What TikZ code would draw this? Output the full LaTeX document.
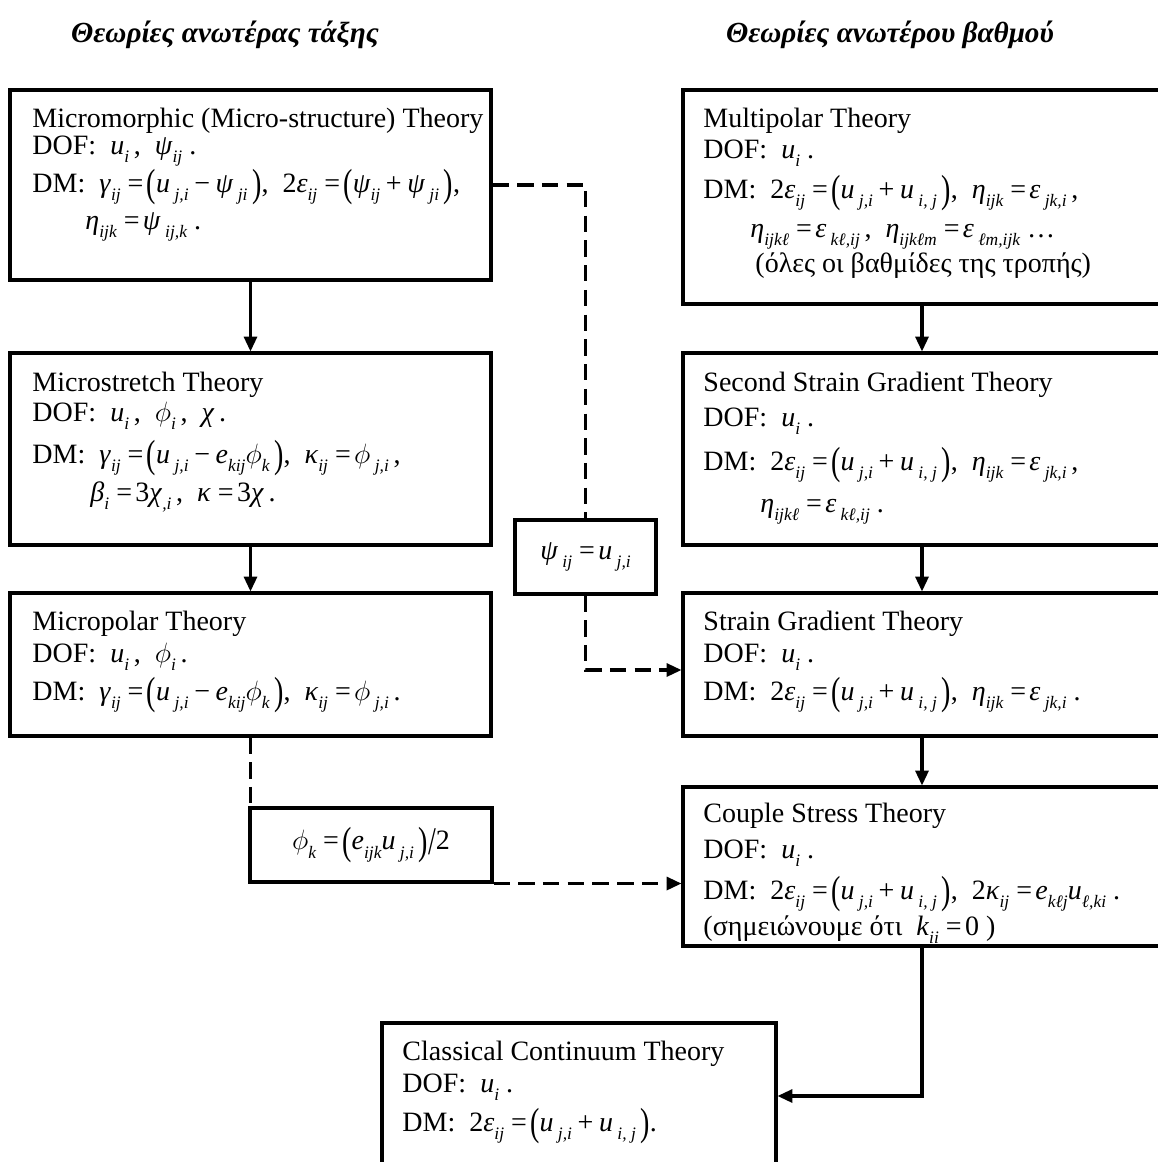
\documentclass[tikz,border=0pt]{standalone}
\usepackage{fontspec}
\usepackage{graphicx}
\setmainfont{Liberation Serif}
\usetikzlibrary{arrows.meta,fit,calc}
\newcommand\Sub[1]{\raisebox{-0.3em}{\fontsize{7.5}{7.5}\selectfont\itshape #1}}
\newcommand\Vv[2]{\textit{#1}\Sub{#2}}
\newcommand\Phv{\ensuremath{\phi}}
\newcommand\Eqs{\hspace{0.25em}=\hspace{0.12em}}
\newcommand\Pls{\hspace{0.2em}+\hspace{0.2em}}
\newcommand\Mns{\hspace{0.2em}−\hspace{0.2em}}
\newcommand\Lpar{\raisebox{-0.17em}{\scalebox{1}[1.4]{(}}}
\newcommand\Rpar{\raisebox{-0.17em}{\scalebox{1}[1.4]{)}}}
\newcommand\Slsh{\raisebox{-0.17em}{\scalebox{1}[1.4]{/}}}
\begin{document}
\begin{tikzpicture}[x=0.4286pt,y=-0.4286pt,
 box/.style={draw,line width=1.3pt,inner sep=0pt,rectangle},
 txt/.style={anchor=base west,inner sep=0pt,font=\fontsize{12}{14}\selectfont},
 ctxt/.style={anchor=center,inner sep=0pt,font=\fontsize{12}{14}\selectfont},
 conn/.style={line width=1.3pt},
 arr/.style={-{Triangle[length=6.4pt,width=5.6pt]}},
 dsh/.style={dash pattern=on 7pt off 3.6pt},
 head/.style={anchor=base,inner sep=0pt,font=\fontsize{12.5}{15}\selectfont\bfseries\itshape}]
\clip (0,0) rectangle (1158,1162);
% headers
\node[head] (h1) at (225,42) {Θεωρίες ανωτέρας τάξης};
\node[head] (h2) at (890,42) {Θεωρίες ανωτέρου βαθμού};
% boxes
\node[box,fit={(10,90)(491,280)}] (mm) {};
\node[box,fit={(10,353)(491,545)}] (ms) {};
\node[box,fit={(10,593)(491,736)}] (mp) {};
\node[box,fit={(683,90)(1180,304)}] (mu) {};
\node[box,fit={(683,353)(1180,545)}] (ss) {};
\node[box,fit={(683,593)(1180,736)}] (sg) {};
\node[box,fit={(683,787)(1180,946)}] (cs) {};
\node[box,fit={(382,1023)(776,1180)}] (cl) {};
\node[box,fit={(515,520)(656,594)}] (psi) {};
\node[box,fit={(250,808)(492,882)}] (phi) {};
% box texts
\node[txt] (mm1) at (32,127) {Micromorphic (Micro-structure) Theory};
\node[txt] (mm2) at (32,154) {DOF:~ \Vv{u}{i}\,,~ \Vv{ψ}{ij}~.};
\node[txt] (mm3) at (32,192) {DM:~ \Vv{γ}{ij}\Eqs\Lpar\Vv{u}{~j,i}\Mns\Vv{ψ}{~ji}\,\Rpar,~ 2\Vv{ε}{ij}\Eqs\Lpar\Vv{ψ}{ij}\Pls\Vv{ψ}{~ji}\,\Rpar,};
\node[txt] (mm4) at (85,229) {\Vv{η}{ijk}\Eqs\Vv{ψ}{~ij,k}~.};
\node[txt] (ms1) at (32,391) {Microstretch Theory};
\node[txt] (ms2) at (32,421) {DOF:~ \Vv{u}{i}\,,~ \Vv{\Phv}{i}\,,~ \textit{χ}\,.};
\node[txt] (ms3) at (32,463) {DM:~ \Vv{γ}{ij}\Eqs\Lpar\Vv{u}{~j,i}\Mns\Vv{e}{kij}\Vv{\Phv}{k}\,\Rpar,~ \Vv{κ}{ij}\Eqs\Vv{\Phv}{~j,i}\,,};
\node[txt] (ms4) at (90,501) {\Vv{β}{i}\Eqs3\Vv{χ}{,i}\,,~ \textit{κ}\Eqs3\textit{χ}\,.};
\node[txt] (mp1) at (32,630) {Micropolar Theory};
\node[txt] (mp2) at (32,662) {DOF:~ \Vv{u}{i}\,,~ \Vv{\Phv}{i}\,.};
\node[txt] (mp3) at (32,700) {DM:~ \Vv{γ}{ij}\Eqs\Lpar\Vv{u}{~j,i}\Mns\Vv{e}{kij}\Vv{\Phv}{k}\,\Rpar,~ \Vv{κ}{ij}\Eqs\Vv{\Phv}{~j,i}\,.};
\node[txt] (mu1) at (703,127) {Multipolar Theory};
\node[txt] (mu2) at (703,158) {DOF:~ \Vv{u}{i}~.};
\node[txt] (mu3) at (703,198) {DM:~ 2\Vv{ε}{ij}\Eqs\Lpar\Vv{u}{~j,i}\Pls\Vv{u}{~i,~j}\,\Rpar,~ \Vv{η}{ijk}\Eqs\Vv{ε}{~jk,i}\,,};
\node[txt] (mu4) at (750,237) {\Vv{η}{ijkℓ}\Eqs\Vv{ε}{~kℓ,ij}\,,~ \Vv{η}{ijkℓm}\Eqs\Vv{ε}{~ℓm,ijk}~…};
\node[txt] (mu5) at (755,272) {(όλες οι βαθμίδες της τροπής)};
\node[txt] (ss1) at (703,391) {Second Strain Gradient Theory};
\node[txt] (ss2) at (703,426) {DOF:~ \Vv{u}{i}~.};
\node[txt] (ss3) at (703,470) {DM:~ 2\Vv{ε}{ij}\Eqs\Lpar\Vv{u}{~j,i}\Pls\Vv{u}{~i,~j}\,\Rpar,~ \Vv{η}{ijk}\Eqs\Vv{ε}{~jk,i}\,,};
\node[txt] (ss4) at (760,512) {\Vv{η}{ijkℓ}\Eqs\Vv{ε}{~kℓ,ij}~.};
\node[txt] (sg1) at (703,630) {Strain Gradient Theory};
\node[txt] (sg2) at (703,662) {DOF:~ \Vv{u}{i}~.};
\node[txt] (sg3) at (703,700) {DM:~ 2\Vv{ε}{ij}\Eqs\Lpar\Vv{u}{~j,i}\Pls\Vv{u}{~i,~j}\,\Rpar,~ \Vv{η}{ijk}\Eqs\Vv{ε}{~jk,i}~.};
\node[txt] (cs1) at (703,822) {Couple Stress Theory};
\node[txt] (cs2) at (703,858) {DOF:~ \Vv{u}{i}~.};
\node[txt] (cs3) at (703,899) {DM:~ 2\Vv{ε}{ij}\Eqs\Lpar\Vv{u}{~j,i}\Pls\Vv{u}{~i,~j}\,\Rpar,~ 2\Vv{κ}{ij}\Eqs\Vv{e}{kℓj}\Vv{u}{ℓ,ki}~.};
\node[txt] (cs4) at (703,935) {(σημειώνουμε ότι~ \Vv{k}{ii}\Eqs0~)};
\node[txt] (cl1) at (402,1060) {Classical Continuum Theory};
\node[txt] (cl2) at (402,1092) {DOF:~ \Vv{u}{i}~.};
\node[txt] (cl3) at (402,1131) {DM:~ 2\Vv{ε}{ij}\Eqs\Lpar\Vv{u}{~j,i}\Pls\Vv{u}{~i,~j}\,\Rpar.};
\node[ctxt] (psit) at (psi.center) {\Vv{ψ}{~ij}\Eqs\Vv{u}{~j,i}};
\node[ctxt] (phit) at (phi.center) {\Vv{\Phv}{k}\Eqs\Lpar\Vv{e}{ijk}\Vv{u}{~j,i}\,\Rpar\Slsh2};
% helper coordinates
\coordinate (xr) at (922,0);
\coordinate (y185) at (0,185);
\coordinate (y670) at (0,670);
\coordinate (y1096) at (0,1096);
% solid arrows
\draw[conn,arr] (mm.south) -- (ms.north);
\draw[conn,arr] (ms.south) -- (mp.north);
\draw[conn,arr] (mu.south -| xr) -- (ss.north -| xr);
\draw[conn,arr] (ss.south -| xr) -- (sg.north -| xr);
\draw[conn,arr] (sg.south -| xr) -- (cs.north -| xr);
\draw[conn,arr] (cs.south -| xr) |- (cl.east |- y1096);
% dashed connectors
\draw[conn,dsh] (mm.east |- y185) -| (psi.north);
\draw[conn,dsh,arr] (psi.south) |- (sg.west |- y670);
\draw[conn,dsh] (mp.south) -- (mp.south |- phi.north);
\draw[conn,dsh,arr] (phi.south east) -- (cs.west |- phi.south east);
\end{tikzpicture}
\end{document}
